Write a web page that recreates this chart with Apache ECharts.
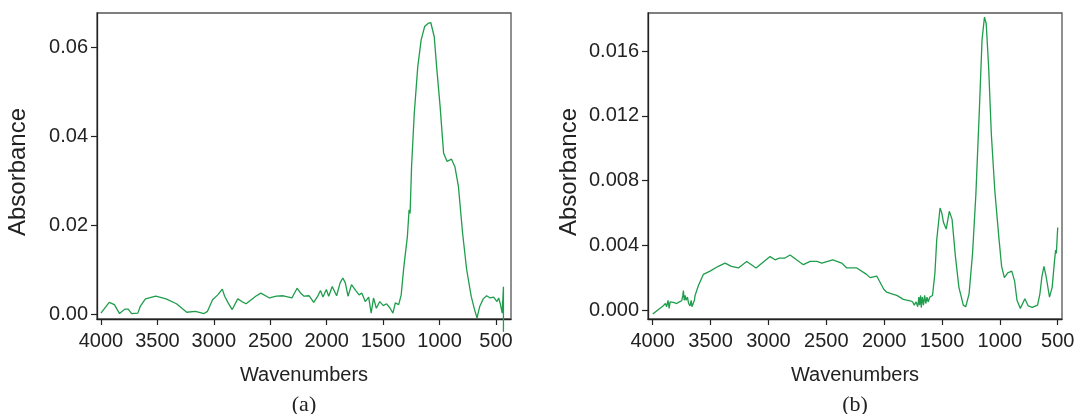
<!DOCTYPE html>
<html>
<head>
<meta charset="utf-8">
<script src="https://cdn.jsdelivr.net/npm/echarts@6/dist/echarts.min.js"></script>
<style>
  html, body { margin: 0; padding: 0; background: #fff; }
  #chart { width: 1076px; height: 414px; }
</style>
</head>
<body>
<div id="chart"></div>
<script>
// tick labels
var xTicks = [4000, 3500, 3000, 2500, 2000, 1500, 1000, 500];
var yTicksA = [0, 0.02, 0.04, 0.06];
var yTicksB = [0, 0.004, 0.008, 0.012, 0.016];

// panel (a) spectrum
var wnA = [4000, 3927, 3881, 3835, 3789, 3759, 3728, 3673, 3652, 3606, 3514, 3423, 3331, 3240, 3163, 3087,
  3056, 3011, 2965, 2925, 2904, 2873, 2837, 2788, 2751, 2714, 2629, 2583, 2507, 2446, 2384, 2308,
  2262, 2231, 2201, 2155, 2115, 2079, 2055, 2033, 2003, 1982, 1951, 1912, 1881, 1857, 1835, 1811,
  1780, 1744, 1713, 1689, 1658, 1628, 1606, 1585, 1560, 1530, 1499, 1469, 1438, 1413, 1392, 1362,
  1340, 1316, 1285, 1270, 1261, 1248, 1224, 1193, 1163, 1132, 1102, 1078, 1047, 1026, 995, 964,
  934, 894, 864, 833, 796, 760, 720, 690, 668, 644, 613, 583, 552, 521, 491, 476, 460, 445, 434, 434];
var absA = [0.0002, 0.0026, 0.0021, 0.0001, 0.0011, 0.0011, 0.0001, 0.0002, 0.0017, 0.0034, 0.0040, 0.0034, 0.0023, 0.0004, 0.0006, 0.0001,
  0.0006, 0.0032, 0.0043, 0.0056, 0.0040, 0.0025, 0.0010, 0.0034, 0.0028, 0.0023, 0.0040, 0.0047, 0.0036, 0.0040, 0.0041, 0.0036,
  0.0058, 0.0047, 0.0040, 0.0041, 0.0026, 0.0040, 0.0053, 0.0038, 0.0055, 0.0040, 0.0062, 0.0041, 0.0070, 0.0081, 0.0070, 0.0040,
  0.0066, 0.0053, 0.0043, 0.0047, 0.0028, 0.0038, 0.0002, 0.0036, 0.0013, 0.0028, 0.0019, 0.0023, 0.0013, 0.0002, 0.0025, 0.0021,
  0.0043, 0.0107, 0.0174, 0.0234, 0.0226, 0.0331, 0.0451, 0.0556, 0.0616, 0.0646, 0.0653, 0.0655, 0.0623, 0.0556, 0.0466, 0.0361,
  0.0343, 0.0348, 0.0331, 0.0287, 0.0182, 0.0100, 0.0040, 0.0010, -0.0009, 0.0017, 0.0034, 0.0041, 0.0036, 0.0038, 0.0028, 0.0036, 0.0021, 0.0002, 0.0061, -0.0040];

// panel (b) spectrum
var wnB = [4000, 3956, 3911, 3890, 3880, 3868, 3858, 3850, 3837, 3815, 3793, 3770, 3750, 3740, 3735, 3728,
  3720, 3712, 3700, 3690, 3678, 3668, 3661, 3649, 3640, 3634, 3622, 3606, 3563, 3505, 3433, 3375,
  3320, 3260, 3188, 3107, 3039, 2986, 2943, 2906, 2862, 2813, 2758, 2698, 2640, 2581, 2539, 2444,
  2367, 2323, 2237, 2152, 2122, 2064, 2005, 1978, 1934, 1891, 1834, 1776, 1753, 1740, 1724, 1710,
  1700, 1694, 1685, 1679, 1670, 1660, 1650, 1640, 1630, 1620, 1605, 1582, 1561, 1546, 1517, 1502,
  1487, 1464, 1437, 1413, 1384, 1354, 1316, 1295, 1266, 1236, 1207, 1177, 1154, 1133, 1118, 1097,
  1074, 1044, 1009, 985, 961, 932, 897, 873, 852, 823, 784, 755, 720, 674, 654, 636,
  619, 601, 571, 548, 527, 518, 512, 500];
var absB = [-0.00025, 0.0000, 0.00025, 0.0004, 0.0002, 0.0006, 0.0001, 0.0005, 0.0004, 0.00045, 0.0004, 0.0005, 0.00057, 0.0009, 0.0012, 0.0006,
  0.0009, 0.0006, 0.0008, 0.0004, 0.00025, 0.0006, 0.0002, 0.00014, 0.0006, 0.0009, 0.0010, 0.0015, 0.0022, 0.0024, 0.0027, 0.0029,
  0.0027, 0.0026, 0.0030, 0.0026, 0.0030, 0.0033, 0.0031, 0.0032, 0.0032, 0.0034, 0.0031, 0.0028, 0.0030, 0.0030, 0.0029, 0.0031,
  0.0029, 0.0026, 0.0026, 0.0022, 0.0020, 0.0021, 0.0013, 0.0011, 0.0010, 0.0009, 0.00066, 0.00057, 0.0005, 0.0003, 0.0005, 0.0002,
  0.0008, 0.0003, 0.0009, 0.00015, 0.0008, 0.0003, 0.0009, 0.0004, 0.0008, 0.0005, 0.0008, 0.0009, 0.0023, 0.0043, 0.0063, 0.0060,
  0.0054, 0.0050, 0.0061, 0.0056, 0.0033, 0.0014, 0.0003, 0.0002, 0.0010, 0.0035, 0.0072, 0.0124, 0.0167, 0.0181, 0.0177, 0.0150,
  0.0109, 0.0074, 0.0045, 0.0027, 0.0020, 0.0023, 0.0024, 0.0018, 0.0006, 0.0001, 0.0007, 0.00025, 0.00016, 0.0003, 0.0010, 0.0021,
  0.0027, 0.0021, 0.0008, 0.0014, 0.0031, 0.0037, 0.0035, 0.0051];

function pairs(xs, ys) {
    var out = [];
    for (var i = 0; i < xs.length; ++i) {
        out.push([xs[i], ys[i]]);
    }
    return out;
}

var font = 'Liberation Sans, Arial, Helvetica, sans-serif';
var serif = 'Liberation Serif, Times New Roman, serif';
var lineGreen = '#1f9d4c';
var axisColor = '#222';

function xAxisFor(gridIndex, min, max) {
    return {
        type: 'value', gridIndex: gridIndex, inverse: true, min: min, max: max,
        name: 'Wavenumbers', nameLocation: 'middle', nameGap: 46,
        nameTextStyle: { fontFamily: font, fontSize: 20, color: '#222' },
        axisLine: { show: true, onZero: false, lineStyle: { color: axisColor, width: 1.3 } },
        axisTick: { show: true, length: 6, customValues: xTicks, lineStyle: { color: axisColor, width: 1.2 } },
        axisLabel: {
            customValues: xTicks, margin: 12, fontFamily: font, fontSize: 20, color: '#222',
            formatter: function (v) { return String(v); }
        },
        splitLine: { show: false }
    };
}

function yAxisFor(gridIndex, min, max, ticks, digits) {
    return {
        type: 'value', gridIndex: gridIndex, min: min, max: max,
        name: 'Absorbance', nameLocation: 'middle', nameGap: 67, nameRotate: 90,
        nameTextStyle: { fontFamily: font, fontSize: 24, color: '#222', padding: [0, 12, 0, 0] },
        axisLine: { show: true, onZero: false, lineStyle: { color: axisColor, width: 1.3 } },
        axisTick: { show: true, length: 6, customValues: ticks, lineStyle: { color: axisColor, width: 1.2 } },
        axisLabel: {
            customValues: ticks, margin: 9, fontFamily: font, fontSize: 20, color: '#222',
            formatter: function (v) { return v.toFixed(digits); }
        },
        splitLine: { show: false }
    };
}

var chart = echarts.init(document.getElementById('chart'), null, { width: 1076, height: 414 });

var option = {
    animation: false,
    backgroundColor: '#fff',
    grid: [
        { left: 97, top: 13, width: 414, height: 306, show: true, borderColor: '#555', borderWidth: 1.3,
          containLabel: false, outerBoundsMode: 'none' },
        { left: 648, top: 13, width: 414, height: 306, show: true, borderColor: '#555', borderWidth: 1.3,
          containLabel: false, outerBoundsMode: 'none' }
    ],
    title: [
        { text: '(a)', left: 299, top: 389, textAlign: 'center',
          textStyle: { fontFamily: serif, fontSize: 22, fontWeight: 'normal', color: '#222' } },
        { text: '(b)', left: 850, top: 389, textAlign: 'center',
          textStyle: { fontFamily: serif, fontSize: 22, fontWeight: 'normal', color: '#222' } }
    ],
    xAxis: [
        xAxisFor(0, 367, 4035),
        xAxisFor(1, 463, 4041)
    ],
    yAxis: [
        yAxisFor(0, -0.00112, 0.06764, yTicksA, 2),
        yAxisFor(1, -0.000556, 0.01835, yTicksB, 3)
    ],
    series: [
        {
            type: 'line', xAxisIndex: 0, yAxisIndex: 0, data: pairs(wnA, absA),
            showSymbol: false, clip: false, smooth: false,
            lineStyle: { color: lineGreen, width: 1.3 }
        },
        {
            type: 'line', xAxisIndex: 1, yAxisIndex: 1, data: pairs(wnB, absB),
            showSymbol: false, clip: false, smooth: false,
            lineStyle: { color: lineGreen, width: 1.3 }
        }
    ]
};

chart.setOption(option);
</script>
</body>
</html>
